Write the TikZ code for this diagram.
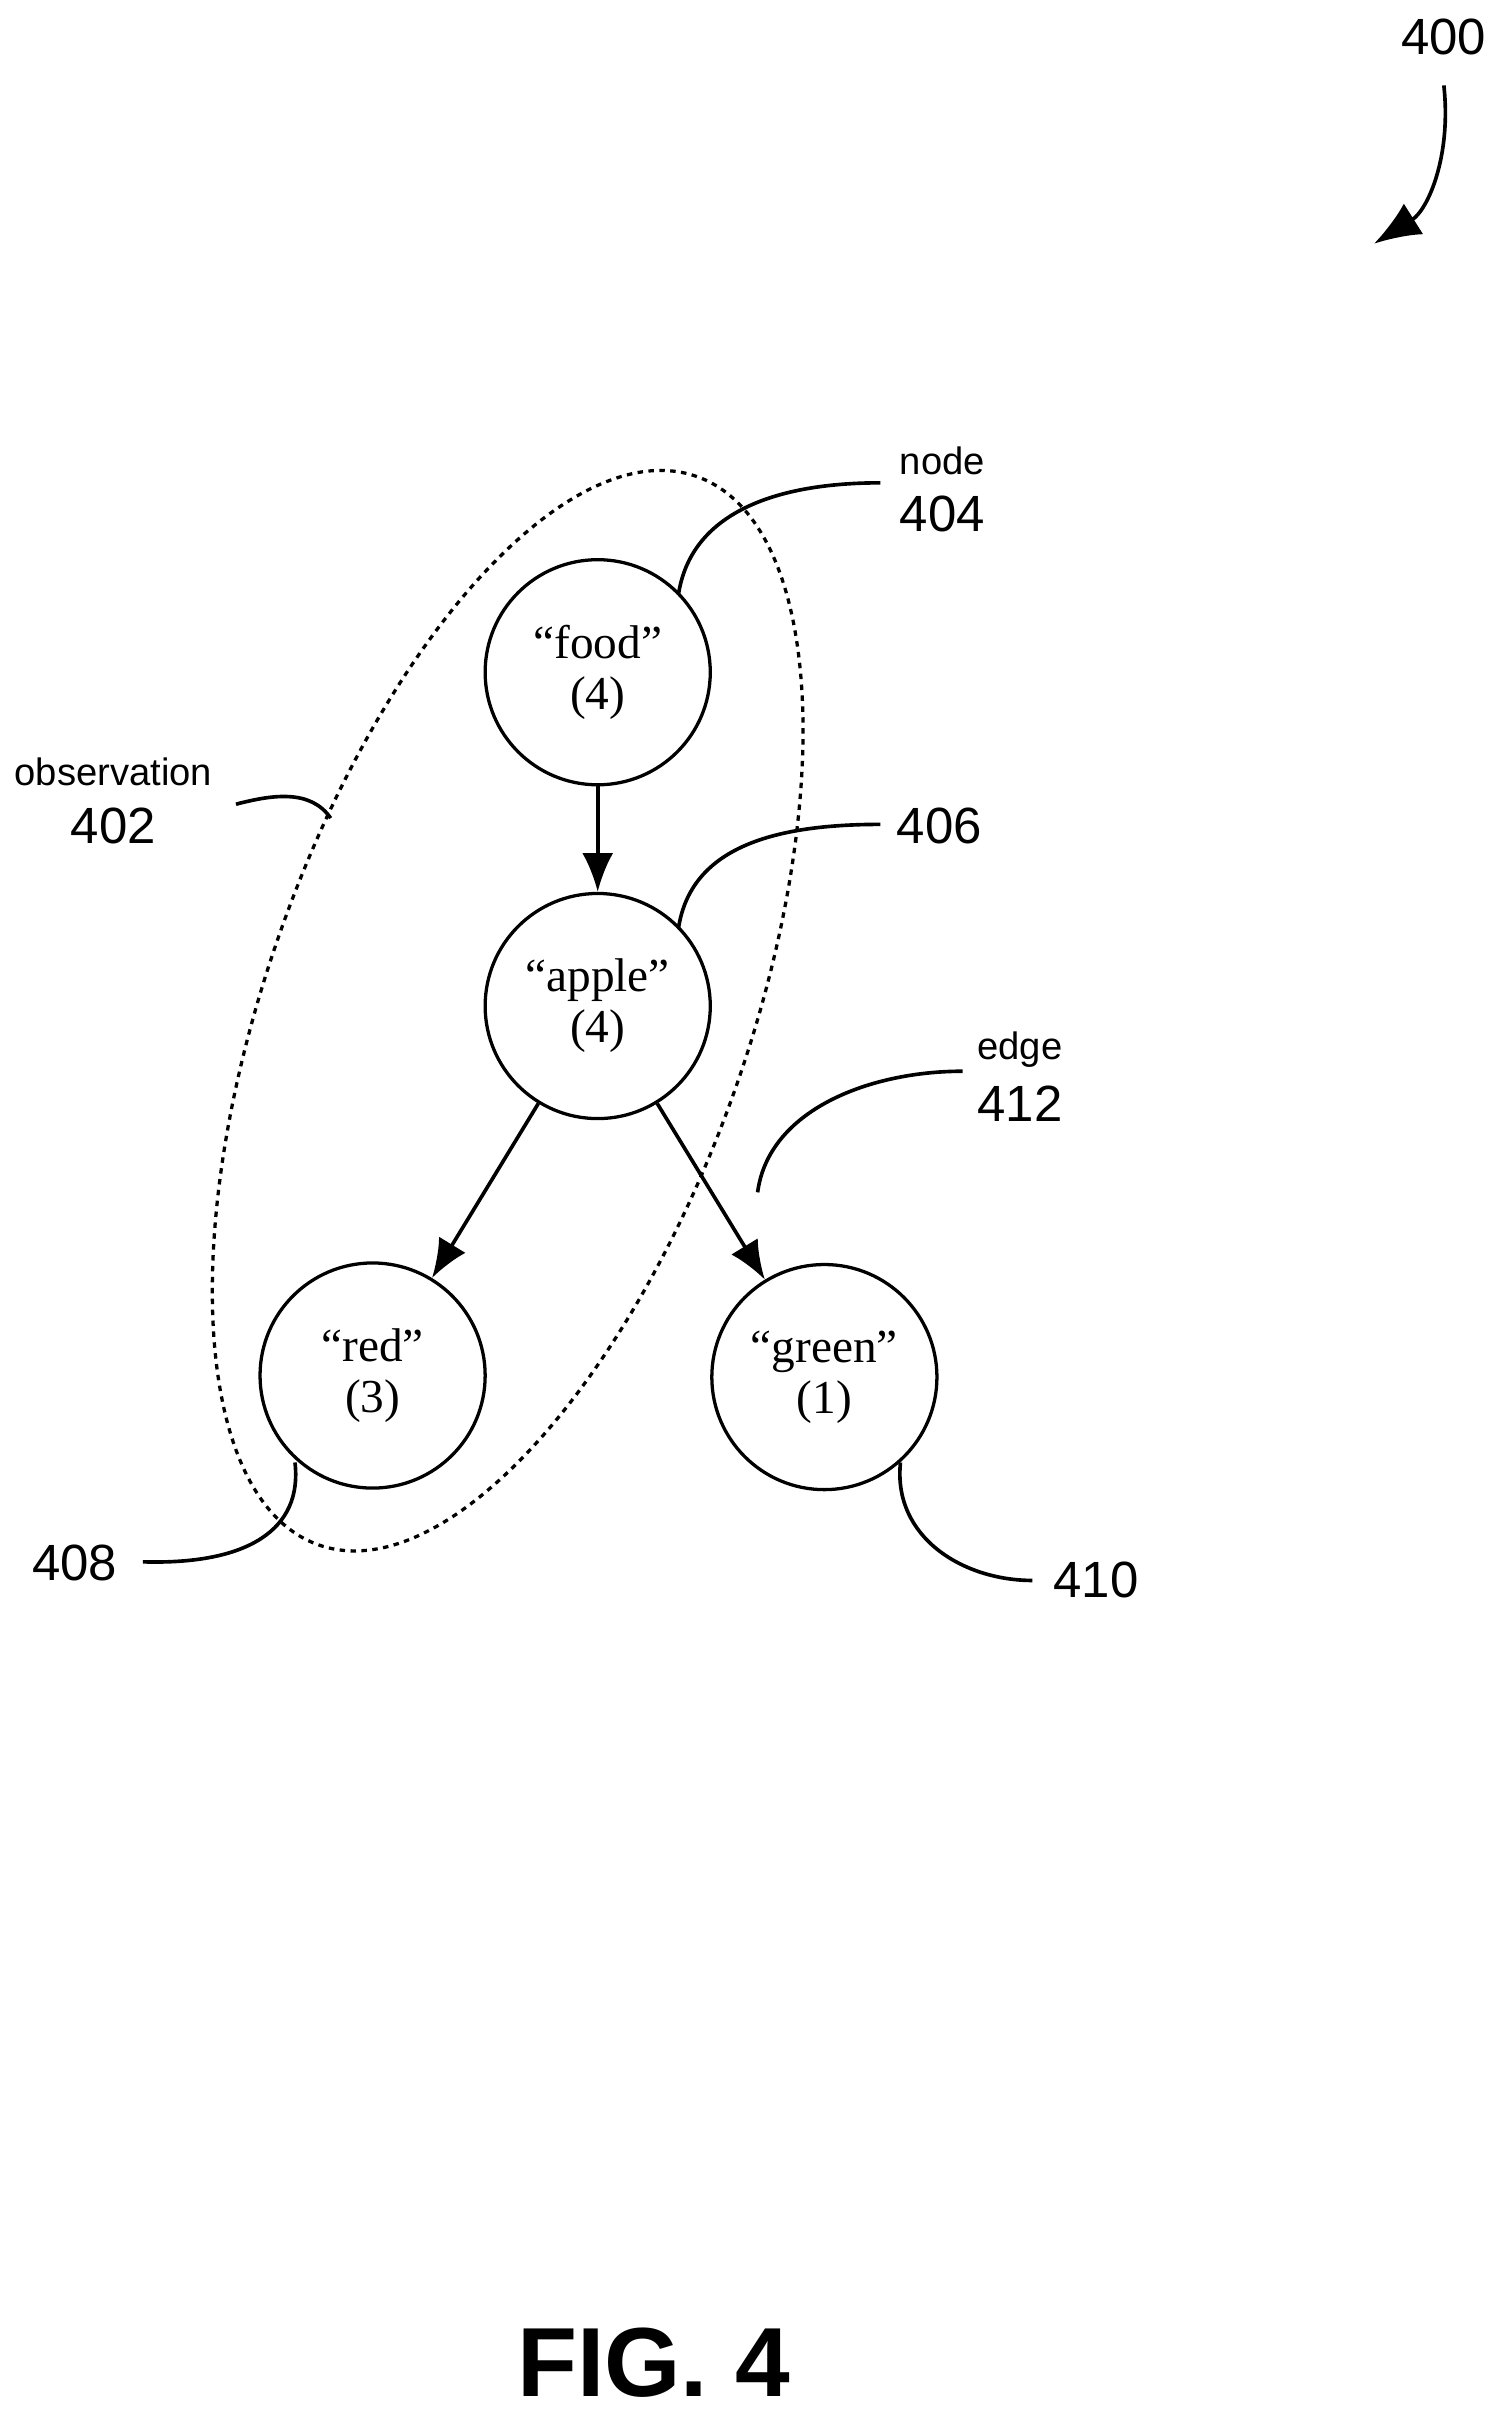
\documentclass[tikz,border=0pt]{standalone}
\usepackage{fontspec}
\setmainfont{Liberation Serif}
\newfontfamily\lab{Liberation Sans}
\usetikzlibrary{arrows.meta}
\tikzset{
 circ/.style={circle,draw,line width=1.8pt,minimum size=4.35cm,inner sep=0pt,align=center,font=\fontsize{26}{28}\selectfont},
 lbl/.style={font=\lab\fontsize{21}{24}\selectfont,inner sep=0pt},
 num/.style={font=\lab\fontsize{28}{30}\selectfont,inner sep=0pt},
 arr/.style={line width=2pt,-{Latex[length=0.75cm,width=0.6cm]}},
 lead/.style={line width=2pt}
}
\begin{document}
\begin{tikzpicture}[x=0.03cm,y=-0.03cm]
\useasboundingbox (0,0) rectangle (965,1562);
\node[circ] (food) at (385,433) {“food”\\(4)};
\node[circ] (apple) at (385,648) {“apple”\\(4)};
\node[circ] (red) at (240,886) {“red”\\(3)};
\node[circ] (green) at (531,887) {“green”\\(1)};
\draw[arr] (food) -- (apple);
\draw[arr] (apple) -- (red);
\draw[arr] (apple) -- (green);
\draw[line width=1.8pt,dash pattern=on 3pt off 3pt] (327,651) ellipse [x radius=10.95cm, y radius=4.65cm, rotate=70.5];
% labels
\node[lbl] (nodet) at (607,297) {node};
\node[num] (n404) at (607,331) {404};
\node[num] (n406) at (605,532) {406};
\node[lbl] (edget) at (657,676) {edge};
\node[num] (n412) at (657,711) {412};
\node[lbl] (obst) at (73,497) {observation};
\node[num] (n402) at (73,532) {402};
\node[num] (n408) at (48,1007) {408};
\node[num] (n410) at (706,1018) {410};
\node[num] (n400) at (930,24) {400};
\node[font=\lab\bfseries\fontsize{54}{58}\selectfont] (fig) at (421,1522) {FIG. 4};
% leaders
\coordinate (a1) at (437,383); \coordinate (b1) at (567,311);
\draw[lead] (a1) .. controls (445,330) and (500,311) .. (b1);
\coordinate (a2) at (437,598); \coordinate (b2) at (567,531);
\draw[lead] (a2) .. controls (445,545) and (500,531) .. (b2);
\coordinate (a3) at (488,768); \coordinate (b3) at (620,690);
\draw[lead] (a3) .. controls (495,715) and (560,690) .. (b3);
\coordinate (a4) at (213,527); \coordinate (b4) at (152,518);
\draw[lead] (a4) .. controls (200,508) and (175,512) .. (b4);
\coordinate (a5) at (190,942); \coordinate (b5) at (92,1006);
\draw[lead] (a5) .. controls (195,985) and (160,1008) .. (b5);
\coordinate (a6) at (580,942); \coordinate (b6) at (665,1018);
\draw[lead] (a6) .. controls (575,990) and (620,1018) .. (b6);
\coordinate (a7) at (930,55); \coordinate (b7) at (885,157);
\draw[lead,-{Latex[length=0.9cm,width=0.7cm]}] (a7) .. controls (935,100) and (920,135) .. (b7);
\end{tikzpicture}
\end{document}
